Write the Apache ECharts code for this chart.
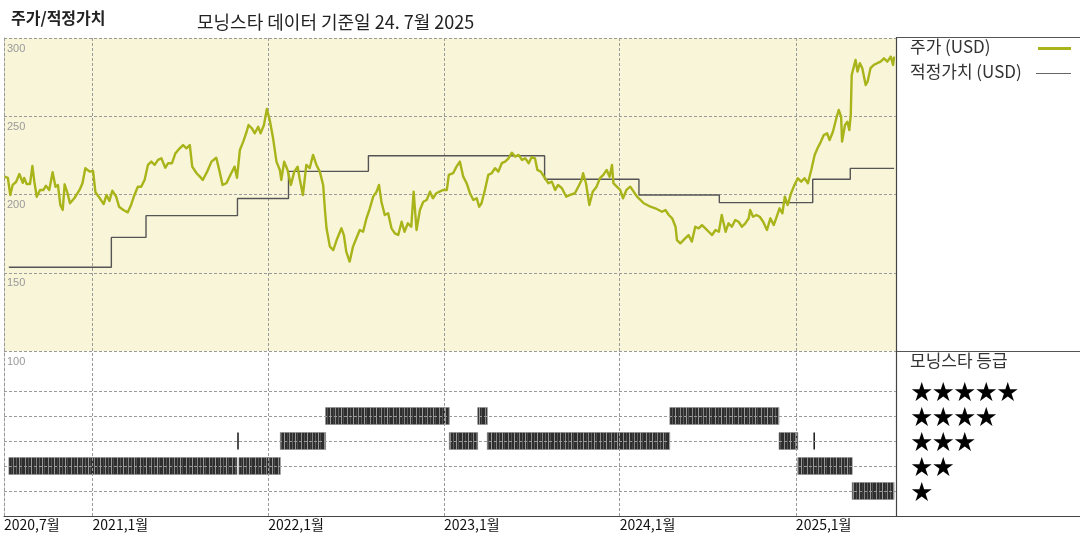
<!DOCTYPE html>
<html>
<head>
<meta charset="utf-8">
<script src="https://cdn.jsdelivr.net/npm/echarts@6/dist/echarts.min.js"></script>
<style>
html,body{margin:0;padding:0;background:#fff;}
#chart{width:1080px;height:540px;}
</style>
</head>
<body>
<div id="chart"></div>
<script>
// ---- data ----
const priceDates = [
'2020-07-02','2020-07-09','2020-07-14','2020-07-19','2020-07-26','2020-08-02','2020-08-09','2020-08-12','2020-08-17','2020-08-24',
'2020-08-29','2020-09-02','2020-09-07','2020-09-14','2020-09-21','2020-09-26','2020-10-03','2020-10-10','2020-10-16','2020-10-21',
'2020-10-26','2020-10-31','2020-11-04','2020-11-10','2020-11-15','2020-11-24','2020-12-05','2020-12-11','2020-12-17','2020-12-26',
'2021-01-02','2021-01-07','2021-01-16','2021-01-24','2021-01-30','2021-02-05','2021-02-11','2021-02-19','2021-02-25','2021-03-06',
'2021-03-15','2021-03-22','2021-03-29','2021-04-05','2021-04-12','2021-04-19','2021-04-26','2021-05-03','2021-05-10','2021-05-17',
'2021-05-24','2021-06-01','2021-06-07','2021-06-15','2021-06-22','2021-07-01','2021-07-08','2021-07-15','2021-07-22','2021-07-27',
'2021-08-05','2021-08-12','2021-08-18','2021-08-27','2021-09-05','2021-09-15','2021-09-22','2021-09-28','2021-10-06','2021-10-09',
'2021-10-16','2021-10-23','2021-10-28','2021-11-03','2021-11-10','2021-11-17','2021-11-21','2021-11-28','2021-12-04','2021-12-11',
'2021-12-16','2021-12-23','2021-12-29','2022-01-04','2022-01-11','2022-01-18','2022-01-25','2022-01-28','2022-02-03','2022-02-10',
'2022-02-17','2022-02-24','2022-03-03','2022-03-07','2022-03-14','2022-03-21','2022-03-28','2022-04-04','2022-04-11','2022-04-18',
'2022-04-25','2022-04-29','2022-05-02','2022-05-09','2022-05-16','2022-05-23','2022-06-02','2022-06-07','2022-06-12','2022-06-19',
'2022-06-26','2022-07-03','2022-07-10','2022-07-17','2022-07-24','2022-07-31','2022-08-07','2022-08-14','2022-08-19','2022-08-24',
'2022-08-31','2022-09-07','2022-09-14','2022-09-21','2022-09-28','2022-10-05','2022-10-11','2022-10-18','2022-10-25','2022-10-30',
'2022-11-05','2022-11-12','2022-11-19','2022-11-26','2022-12-03','2022-12-09','2022-12-16','2022-12-23','2022-12-30','2023-01-07',
'2023-01-11','2023-01-20','2023-01-27','2023-02-03','2023-02-10','2023-02-17','2023-02-24','2023-03-03','2023-03-10','2023-03-15',
'2023-03-20','2023-03-27','2023-04-03','2023-04-10','2023-04-17','2023-04-24','2023-05-01','2023-05-08','2023-05-15','2023-05-22',
'2023-05-29','2023-06-05','2023-06-12','2023-06-19','2023-06-26','2023-07-02','2023-07-09','2023-07-14','2023-07-21','2023-07-30',
'2023-08-06','2023-08-13','2023-08-20','2023-08-26','2023-09-03','2023-09-12','2023-09-20','2023-09-30','2023-10-07','2023-10-14',
'2023-10-17','2023-10-23','2023-10-30','2023-11-06','2023-11-14','2023-11-21','2023-11-28','2023-12-05','2023-12-11','2023-12-16',
'2023-12-19','2023-12-26','2024-01-02','2024-01-08','2024-01-15','2024-01-23','2024-01-30','2024-02-06','2024-02-13','2024-02-20',
'2024-02-27','2024-03-05','2024-03-15','2024-03-22','2024-03-29','2024-04-05','2024-04-12','2024-04-19','2024-04-26','2024-04-29',
'2024-05-06','2024-05-16','2024-05-23','2024-05-30','2024-06-06','2024-06-13','2024-06-20','2024-06-27','2024-07-04','2024-07-11',
'2024-07-18','2024-07-25','2024-07-31','2024-08-08','2024-08-14','2024-08-21','2024-08-28','2024-09-04','2024-09-11','2024-09-18',
'2024-09-25','2024-09-28','2024-10-04','2024-10-11','2024-10-18','2024-10-25','2024-11-02','2024-11-09','2024-11-16','2024-11-21',
'2024-11-28','2024-12-04','2024-12-09','2024-12-15','2024-12-22','2024-12-29','2025-01-05','2025-01-12','2025-01-19','2025-01-26',
'2025-02-02','2025-02-09','2025-02-15','2025-02-22','2025-02-28','2025-03-07','2025-03-12','2025-03-19','2025-03-26','2025-03-31',
'2025-04-05','2025-04-07','2025-04-13','2025-04-18','2025-04-22','2025-04-25','2025-04-27','2025-05-05','2025-05-09','2025-05-14',
'2025-05-19','2025-05-26','2025-05-30','2025-06-05','2025-06-12','2025-06-19','2025-06-26','2025-07-03','2025-07-10','2025-07-17',
'2025-07-22','2025-07-24'
];
const priceValues = [
211.4,210.6,199.7,206.1,208.0,213.1,207.4,210.6,206.7,206.7,
218.2,208.2,198.6,202.9,202.9,205.6,202.9,214.2,204.9,206.1,
193.3,190.1,206.5,200.8,194.4,197.6,202.9,207.2,216.8,214.6,
215.0,201.4,197.6,193.9,199.7,195.9,202.4,198.6,192.2,190.1,
188.6,193.3,199.7,205.0,205.0,209.3,218.9,221.0,218.9,222.1,
223.1,217.1,220.0,220.0,226.3,229.5,231.6,229.5,231.6,217.8,
213.6,211.4,209.3,214.6,221.0,223.5,214.6,206.1,207.2,206.1,
213.6,217.8,210.7,228.4,233.8,240.1,244.4,242.3,239.1,243.3,
239.1,244.4,254.6,247.6,235.9,221.0,215.7,209.3,221.0,215.7,
206.1,214.6,217.8,210.4,199.7,218.9,216.8,225.3,218.9,214.6,
206.1,189.0,178.4,166.7,164.5,170.9,178.4,174.1,163.5,157.1,
166.7,172.0,177.3,176.2,184.8,191.2,198.6,201.8,206.1,195.4,
186.9,188.0,178.4,175.2,174.1,182.6,176.2,181.6,179.4,201.8,
177.3,190.1,195.4,196.5,201.8,197.6,200.8,201.8,202.9,202.9,
212.5,213.6,217.8,221.0,211.4,207.2,200.8,196.5,197.6,192.2,
194.4,202.9,212.5,213.6,216.8,214.6,220.0,221.0,223.1,226.7,
224.2,225.3,222.1,223.1,220.0,223.8,223.1,215.7,214.6,210.4,
207.2,208.2,202.9,206.1,204.0,198.6,199.7,200.8,205.0,209.3,
213.6,207.2,193.3,201.8,205.0,210.4,212.5,215.7,211.4,218.9,
207.2,205.0,202.9,197.6,202.9,205.0,201.8,198.6,196.5,194.4,
193.3,192.2,191.2,190.1,189.0,190.1,186.9,184.8,179.4,170.9,
168.8,172.0,174.1,169.9,179.4,178.4,180.5,178.4,176.2,174.1,
177.3,176.2,186.9,176.2,181.6,179.4,183.7,182.6,179.4,181.6,
184.8,190.1,185.8,186.9,185.8,182.6,177.3,184.8,180.5,184.8,
191.2,188.0,198.6,193.3,200.8,206.1,210.4,208.2,210.4,207.2,
215.7,225.3,229.5,233.8,238.0,239.1,234.8,240.1,248.7,254.0,
249.7,233.8,244.4,246.5,241.2,250.8,276.4,286.0,278.5,283.9,
280.7,270.0,272.1,280.7,282.8,283.9,284.9,287.0,284.9,288.1,
282.8,288.1
];
const fairDates = ['2020-07-11','2021-02-09','2021-04-22','2021-10-29','2022-02-12','2022-07-28','2023-07-29','2024-02-10','2024-07-26','2025-02-05','2025-04-24','2025-07-24'];
const fairValues = [153.5,172.6,186.5,197.4,214.8,224.8,209.7,199.7,194.8,209.7,216.7,216.7];

const ratingStart = ['2020-07-11','2021-10-30','2021-11-01','2022-01-26','2022-04-30','2023-01-12','2023-03-12','2023-04-01','2024-04-14','2024-11-27','2025-01-05','2025-02-08','2025-04-28'];
const ratingEnd   = ['2021-10-28','2021-10-30','2022-01-26','2022-04-30','2023-01-12','2023-03-12','2023-04-01','2024-04-14','2024-11-27','2025-01-05','2025-04-28','2025-02-08','2025-07-24'];
const ratingStars = [2,3,2,3,4,3,4,3,4,3,2,3,1];

const xTicks = ['2020-07-01','2021-01-01','2022-01-01','2023-01-01','2024-01-01','2025-01-01'];
const yearLines = ['2021-01-01','2022-01-01','2023-01-01','2024-01-01','2025-01-01'];
const xRange = ['2020-07-01','2025-07-28'];
const priceTicks = {min:100, max:300, step:50};
const starLevels = [1,2,3,4,5];
const starLabels = {1:'★',2:'★★',3:'★★★',4:'★★★★',5:'★★★★★'};

// ---- chart ----
const FONT = '"Noto Sans CJK KR", "Noto Sans", sans-serif';
const OLIVE = '#a8b419';
const chart = echarts.init(document.getElementById('chart'), null, {renderer:'canvas'});
const tp = d => { const p = d.split('-').map(Number); return Date.UTC(p[0], p[1]-1, p[2]); };

// barcode-like fill pattern for rating bars
const pc = document.createElement('canvas');
pc.width = 23; pc.height = 4;
const pctx = pc.getContext('2d');
pctx.fillStyle = '#2e2e2e'; pctx.fillRect(0,0,23,4);
[[2,'#8c8c8c'],[5,'#555'],[8,'#999'],[11,'#444'],[13,'#858585'],[16,'#606060'],[19,'#999'],[21,'#505050']].forEach(([x,c])=>{pctx.fillStyle=c;pctx.fillRect(x,0,1,4);});
const barPattern = {image: pc, repeat: 'repeat'};

const vLineData = yearLines.map(d => ({xAxis: tp(d)}));
const dashStyle = {type:[3,2], color:'#9a9a9a', width:1};
const xLabelFmt = v => { const d = new Date(v); return d.getUTCFullYear() + ',' + (d.getUTCMonth()+1) + '월'; };

const option = {
  animation: false,
  textStyle: {fontFamily: FONT},
  title: [
    {text:'주가/적정가치', left:6, top:5, textStyle:{fontSize:16, fontWeight:'bold', color:'#222', fontFamily:FONT}},
    {text:'모닝스타 데이터 기준일 24. 7월 2025', left:192, top:8, textStyle:{fontSize:18, fontWeight:'normal', color:'#222', fontFamily:FONT}}
  ],
  grid: [
    {left:4, top:38, width:892, height:313, show:true, backgroundColor:'#f9f5d9', borderWidth:0},
    {left:4, top:351, width:892, height:165, show:false}
  ],
  xAxis: [
    {type:'value', gridIndex:0, min:tp(xRange[0]), max:tp(xRange[1]),
     axisLine:{show:false}, axisTick:{show:false}, axisLabel:{show:false}, splitLine:{show:false}},
    {type:'value', gridIndex:1, min:tp(xRange[0]), max:tp(xRange[1]),
     axisLine:{show:true, lineStyle:{color:'#444', width:1.2}}, axisTick:{show:false}, splitLine:{show:false},
     axisLabel:{show:true, customValues: xTicks.map(tp), align:'left', margin:2, color:'#111', fontSize:14, fontFamily:FONT,
       hideOverlap:false, showMinLabel:true, formatter: xLabelFmt}}
  ],
  yAxis: [
    {type:'value', gridIndex:0, min:priceTicks.min, max:priceTicks.max, interval:priceTicks.step,
     axisLine:{show:true, lineStyle:dashStyle}, axisTick:{show:false},
     splitLine:{show:true, lineStyle:dashStyle},
     axisLabel:{inside:true, verticalAlign:'top', padding:[5,0,0,0], margin:3, color:'#999', fontSize:11, fontFamily:'Liberation Sans, sans-serif'}},
    {type:'value', gridIndex:1, position:'right', min:0, max:6.6, interval:1,
     axisLine:{show:true, lineStyle:{color:'#444', width:1.2}}, axisTick:{show:false}, splitLine:{show:false},
     axisLabel:{show:true, align:'left', margin:15, color:'#000', fontSize:21.5, fontFamily:FONT,
       formatter: v => starLabels[v] || ''}},
    {type:'value', gridIndex:1, position:'left', min:0, max:1,
     axisLine:{show:true, lineStyle:dashStyle}, axisTick:{show:false}, axisLabel:{show:false}, splitLine:{show:false}}
  ],
  graphic: [
    {type:'line', shape:{x1:896, y1:37.5, x2:1080, y2:37.5}, style:{stroke:'#555', lineWidth:1}},
    {type:'line', shape:{x1:896.5, y1:37.5, x2:896.5, y2:351}, style:{stroke:'#444', lineWidth:1.2}},
    {type:'line', shape:{x1:896, y1:351.5, x2:1080, y2:351.5}, style:{stroke:'#555', lineWidth:1}},
    {type:'line', shape:{x1:896, y1:516.5, x2:1080, y2:516.5}, style:{stroke:'#444', lineWidth:1.2}},
    {type:'text', left:910, top:38, style:{text:'주가 (USD)', fill:'#333', font:'17px ' + FONT}},
    {type:'line', shape:{x1:1038, y1:48.5, x2:1071, y2:48.5}, style:{stroke:OLIVE, lineWidth:3}},
    {type:'text', left:910, top:63, style:{text:'적정가치 (USD)', fill:'#333', font:'17px ' + FONT}},
    {type:'line', shape:{x1:1036, y1:73.5, x2:1071, y2:73.5}, style:{stroke:'#666', lineWidth:1.2}},
    {type:'text', left:910, top:352, style:{text:'모닝스타 등급', fill:'#333', font:'17px ' + FONT}}
  ],
  series: [
    {name:'적정가치 (USD)', type:'line', xAxisIndex:0, yAxisIndex:0, step:'end', showSymbol:false, z:3,
     lineStyle:{color:'#555', width:1.4},
     data: fairDates.map((d,i)=>[tp(d), fairValues[i]])},
    {name:'주가 (USD)', type:'line', xAxisIndex:0, yAxisIndex:0, showSymbol:false, z:4,
     lineStyle:{color:OLIVE, width:2.4, join:'round'},
     data: priceDates.map((d,i)=>[tp(d), priceValues[i]]),
     markLine:{silent:true, symbol:'none', label:{show:false}, lineStyle:dashStyle, z:1, data: vLineData}},
    {name:'모닝스타 등급', type:'custom', xAxisIndex:1, yAxisIndex:1, z:3,
     encode:{x:[0,1], y:2},
     data: ratingStart.map((d,i)=>[tp(d), tp(ratingEnd[i]), ratingStars[i]]),
     renderItem: (params, api) => {
       const s = api.coord([api.value(0), api.value(2)]);
       const e = api.coord([api.value(1), api.value(2)]);
       const w = e[0] - s[0];
       const h = 17;
       if (w < 3) {
         return {type:'rect', shape:{x:s[0]-0.75, y:s[1]-h/2, width:1.6, height:h}, style:{fill:'#222'}};
       }
       return {type:'rect', shape:{x:s[0], y:s[1]-h/2, width:w, height:h}, style:{fill:barPattern, stroke:'#8a8a8a', lineWidth:0.6}};
     },
     markLine:{silent:true, symbol:'none', label:{show:false}, lineStyle:dashStyle, z:5,
       data: starLevels.map(v=>({yAxis:v})).concat(vLineData)}}
  ]
};
chart.setOption(option);
</script>
</body>
</html>
